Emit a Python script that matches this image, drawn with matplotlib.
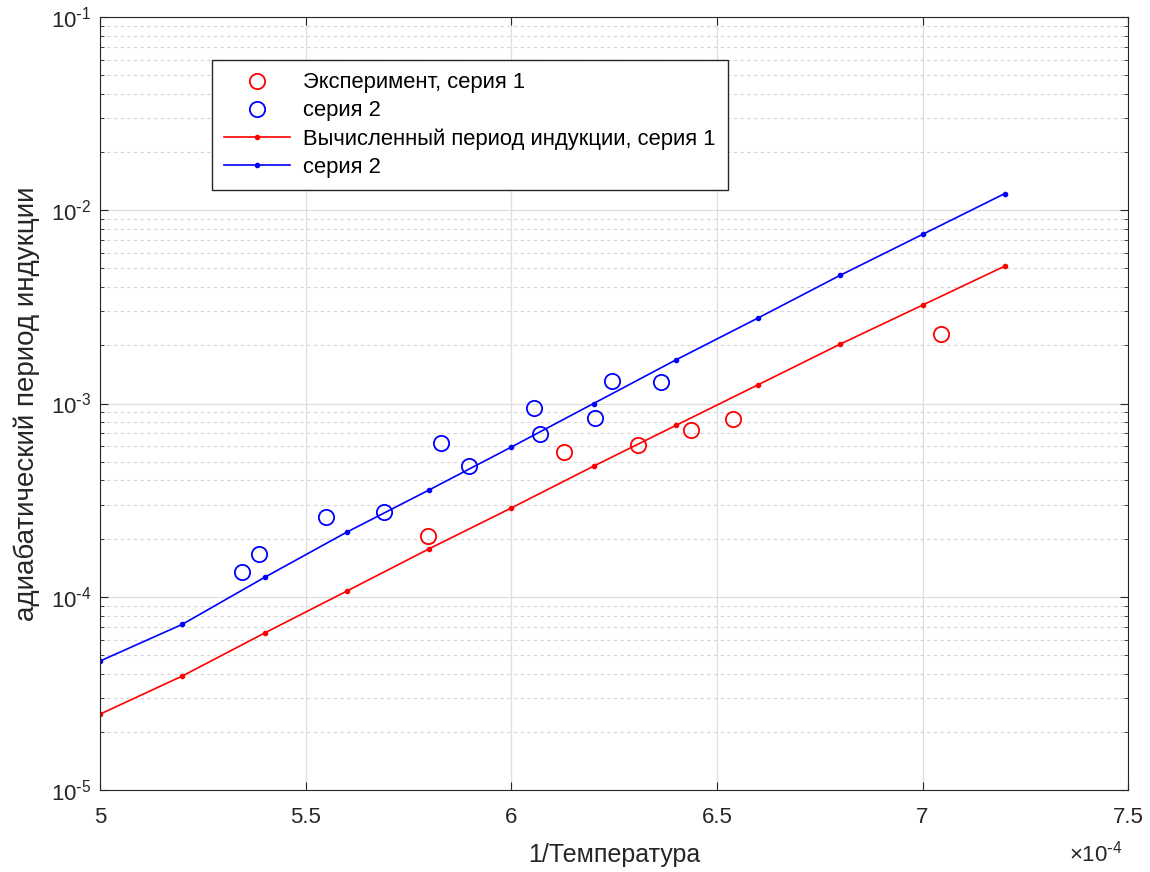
import numpy as np
import matplotlib
matplotlib.use("Agg")
import matplotlib.pyplot as plt
from matplotlib.ticker import FuncFormatter, LogLocator, FixedLocator

plt.rcParams['font.family'] = ['Liberation Sans', 'DejaVu Sans']

# данные (1/T в единицах 1e-4)
x_calc = [5.0, 5.2, 5.4, 5.6, 5.8, 6.0, 6.2, 6.4, 6.6, 6.8, 7.0, 7.2]
calc_s1 = [2.47e-5, 3.89e-5, 6.49e-5, 1.07e-4, 1.77e-4, 2.88e-4, 4.74e-4, 7.7e-4, 1.25e-3, 2.03e-3, 3.23e-3, 5.14e-3]
calc_s2 = [4.65e-5, 7.2e-5, 1.26e-4, 2.16e-4, 3.57e-4, 5.95e-4, 1.0e-3, 1.68e-3, 2.77e-3, 4.61e-3, 7.5e-3, 1.22e-2]

x_exp1 = [5.798, 6.129, 6.309, 6.436, 6.540, 7.044]
exp_s1 = [2.06e-4, 5.6e-4, 6.1e-4, 7.3e-4, 8.3e-4, 2.29e-3]

x_exp2 = [5.345, 5.387, 5.550, 5.691, 5.830, 5.898, 6.056, 6.071, 6.204, 6.246, 6.363]
exp_s2 = [1.34e-4, 1.66e-4, 2.58e-4, 2.74e-4, 6.24e-4, 4.74e-4, 9.47e-4, 6.95e-4, 8.4e-4, 1.31e-3, 1.29e-3]

labels = ['Эксперимент, серия 1', 'серия 2', 'Вычисленный период индукции, серия 1', 'серия 2']
x_ticks = [5, 5.5, 6, 6.5, 7, 7.5]
y_ticks = [1e-5, 1e-4, 1e-3, 1e-2, 1e-1]

scale = 1e-4
txt = '#262626'
fig = plt.figure(figsize=(11.5, 8.72), dpi=100)
ax = fig.add_axes([0.087, 0.094, 0.894, 0.8865])

ax.plot(np.array(x_exp1) * scale, exp_s1, 'o', mfc='none', mec='#ff0000', ms=11, mew=1.3, label=labels[0])
ax.plot(np.array(x_exp2) * scale, exp_s2, 'o', mfc='none', mec='#0000ff', ms=11, mew=1.3, label=labels[1])
ax.plot(np.array(x_calc) * scale, calc_s1, '.-', color='#ff0000', ms=6, lw=1.2, label=labels[2])
ax.plot(np.array(x_calc) * scale, calc_s2, '.-', color='#0000ff', ms=6, lw=1.2, label=labels[3])

ax.set_yscale('log')
ax.set_xlim(5e-4, 7.5e-4)
ax.set_ylim(1e-5, 1e-1)
ax.xaxis.set_major_locator(FixedLocator(np.array(x_ticks) * scale))
ax.xaxis.set_major_formatter(FuncFormatter(lambda v, p: '%g' % round(v / scale, 3)))
ax.yaxis.set_major_locator(FixedLocator(y_ticks))
ax.yaxis.set_major_formatter(FuncFormatter(
    lambda v, p: r'$\mathregular{10^{\text{-}%d}}$' % round(-np.log10(v))))
ax.yaxis.set_minor_locator(LogLocator(base=10, subs=np.arange(2, 10)))

ax.grid(True, which='major', color='#dedede', lw=0.9)
ax.grid(True, which='minor', axis='y', color='#d4d4d4', ls=(0, (3, 3)), lw=0.8)
ax.set_axisbelow(True)

ax.tick_params(which='both', direction='in', top=True, right=True, colors=txt, labelsize=16)
ax.tick_params(axis='x', pad=12)
ax.tick_params(axis='y', pad=6)
ax.tick_params(which='minor', length=3)
ax.tick_params(which='major', length=6)
for s in ax.spines.values():
    s.set_color(txt)

ax.set_xlabel('1/Температура', fontsize=18, color=txt, labelpad=11)
ax.set_ylabel('адиабатический период индукции', fontsize=20, color=txt, labelpad=8)
ax.text(0.995, -0.082, r'$\mathregular{\times10^{\text{-}4}}$', transform=ax.transAxes,
        ha='right', va='center', fontsize=16, color=txt)

leg = ax.legend(loc='upper left', bbox_to_anchor=(0.109, 0.944), borderaxespad=0, fontsize=15.8,
                fancybox=False, edgecolor=txt, framealpha=1, borderpad=0.55, handlelength=3.0,
                handletextpad=0.6, labelspacing=0.32)
leg.get_frame().set_linewidth(1.0)

fig.savefig('out.png', dpi=100)
